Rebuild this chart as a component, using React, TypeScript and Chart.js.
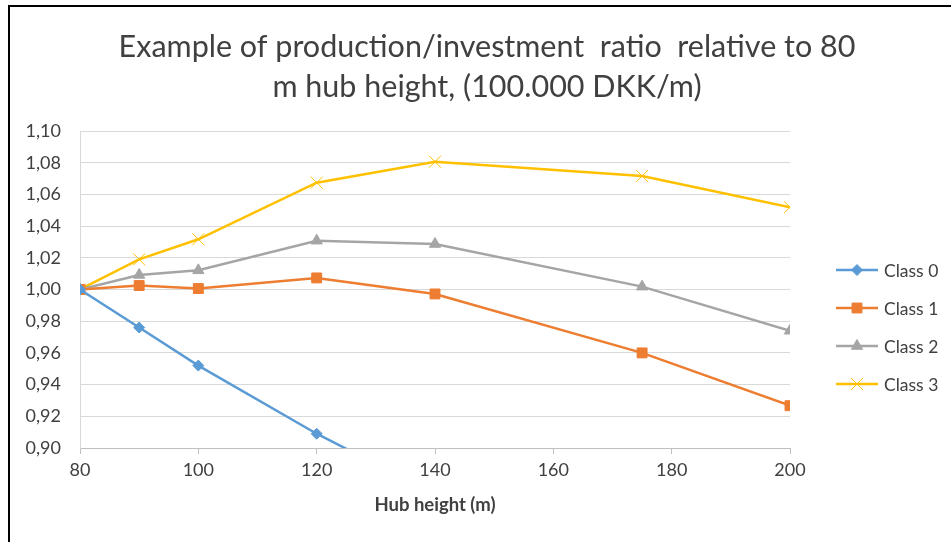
import React, { useEffect, useRef } from "react";
import { Chart, registerables } from "chart.js";

Chart.register(...registerables);

const titleLines = ["Example of production/investment  ratio  relative to 80", "m hub height, (100.000 DKK/m)"];
const xAxisTitle = "Hub height (m)";
const hubHeights = [80, 90, 100, 120, 140, 175, 200];
const class0 = [1.0, 0.976, 0.952, 0.909, 0.871, 0.81, 0.77];
const class1 = [1.0, 1.0025, 1.0006, 1.0073, 0.9972, 0.96, 0.9267];
const class2 = [1.0, 1.0092, 1.0121, 1.0308, 1.0287, 1.0018, 0.974];
const class3 = [1.0, 1.019, 1.0317, 1.0674, 1.0806, 1.0716, 1.0519];
const seriesNames = ["Class 0", "Class 1", "Class 2", "Class 3"];
const seriesColors = ["#5B9BD5", "#ED7D31", "#A5A5A5", "#FFC000"];
const seriesMarkers = ["rectRot", "rect", "triangle", "crossRot"];
const markerRadius = [5.5, 7, 6.5, 8.5];
const yMin = 0.9;
const yMax = 1.1;
const yStep = 0.02;
const xMin = 80;
const xMax = 200;
const xStep = 20;

const FONT = "Lato, 'Liberation Sans', sans-serif";
const TEXT = "#404040";

export default function App() {
  const ref = useRef<HTMLCanvasElement | null>(null);
  useEffect(() => {
    if (!ref.current) return;
    const data = [class0, class1, class2, class3];
    const datasets = seriesNames.map((name, i) => ({
      label: name,
      data: hubHeights.map((h, j) => ({ x: h, y: data[i][j] })),
      borderColor: seriesColors[i],
      backgroundColor: seriesColors[i],
      borderWidth: 2.5,
      pointStyle: seriesMarkers[i] as any,
      pointRadius: markerRadius[i],
      pointBorderWidth: 1,
      pointBorderColor: seriesColors[i],
      pointBackgroundColor: seriesColors[i],
      tension: 0,
    }));
    const chart = new Chart(ref.current, {
      type: "line",
      data: { datasets },
      plugins: [
        {
          id: "legendMarkers",
          afterDraw(c: any) {
            const ctx = c.ctx;
            c.data.datasets.forEach((ds: any, i: number) => {
              const y = 270 + i * 38;
              ctx.save();
              ctx.strokeStyle = ds.borderColor;
              ctx.lineWidth = 2.5;
              ctx.beginPath();
              ctx.moveTo(836, y);
              ctx.lineTo(878, y);
              ctx.stroke();
              ctx.restore();
              const meta = c.getDatasetMeta(i);
              const el = meta.data[0];
              if (el) {
                const ElCtor = el.constructor as any;
                const p = new ElCtor({ x: 857, y, options: el.options });
                p.x = 857;
                p.y = y;
                p.options = el.options;
                p.skip = false;
                p.draw(ctx);
              }
              ctx.save();
              ctx.fillStyle = TEXT;
              ctx.font = `17.5px ${FONT}`;
              ctx.textAlign = "left";
              ctx.textBaseline = "middle";
              ctx.fillText(ds.label, 884, y + 1);
              ctx.restore();
            });
          },
        },
        {
          id: "titleDraw",
          afterDraw(c: any) {
            const ctx = c.ctx;
            ctx.save();
            ctx.fillStyle = TEXT;
            ctx.font = `30.5px ${FONT}`;
            ctx.textAlign = "center";
            ctx.textBaseline = "middle";
            ctx.fillText(titleLines[0], 487, 47);
            ctx.fillText(titleLines[1], 487, 87);
            ctx.restore();
          },
        },
      ],
      options: {
        animation: false,
        responsive: false,
        maintainAspectRatio: false,
        layout: { padding: { left: 0, right: 161, top: 131, bottom: 26 } },
        plugins: {
          legend: { display: false },
          title: { display: false },
          tooltip: { enabled: false },
        },
        scales: {
          x: {
            type: "linear",
            min: xMin,
            max: xMax,
            ticks: {
              stepSize: xStep,
              color: TEXT,
              font: { family: FONT, size: 18 },
              padding: 5,
              maxRotation: 0,
            },
            grid: {
              drawOnChartArea: false,
              drawTicks: true,
              tickLength: 6,
              color: "#BFBFBF",
            },
            border: { display: true, color: "#BFBFBF", width: 1 },
            title: {
              display: true,
              text: xAxisTitle,
              color: TEXT,
              font: { family: FONT, size: 18.5, weight: "bold" },
              padding: 0,
            },
            afterFit(scale: any) {
              scale.height = 68;
            },
          },
          y: {
            type: "linear",
            min: yMin,
            max: yMax,
            ticks: {
              stepSize: yStep,
              color: TEXT,
              font: { family: FONT, size: 18 },
              padding: 19,
              callback: (v: any) => Number(v).toFixed(2).replace(".", ","),
            },
            grid: { color: "#D9D9D9", drawTicks: false, lineWidth: 1 },
            border: { display: true, color: "#D9D9D9", width: 1 },
            afterFit(scale: any) {
              scale.width = 80;
            },
          },
        },
      },
    });
    return () => chart.destroy();
  }, []);
  return (
    <div style={{ position: "fixed", left: 0, top: 0, width: 951, height: 542, background: "#fff" }}>
      <canvas ref={ref} width={951} height={542} style={{ position: "absolute", left: 0, top: 0, width: 951, height: 542 }} />
      <div style={{ position: "absolute", left: 8, top: 5, right: 0, height: 2, background: "#000" }} />
      <div style={{ position: "absolute", left: 8, top: 5, bottom: 0, width: 2, background: "#000" }} />
    </div>
  );
}
